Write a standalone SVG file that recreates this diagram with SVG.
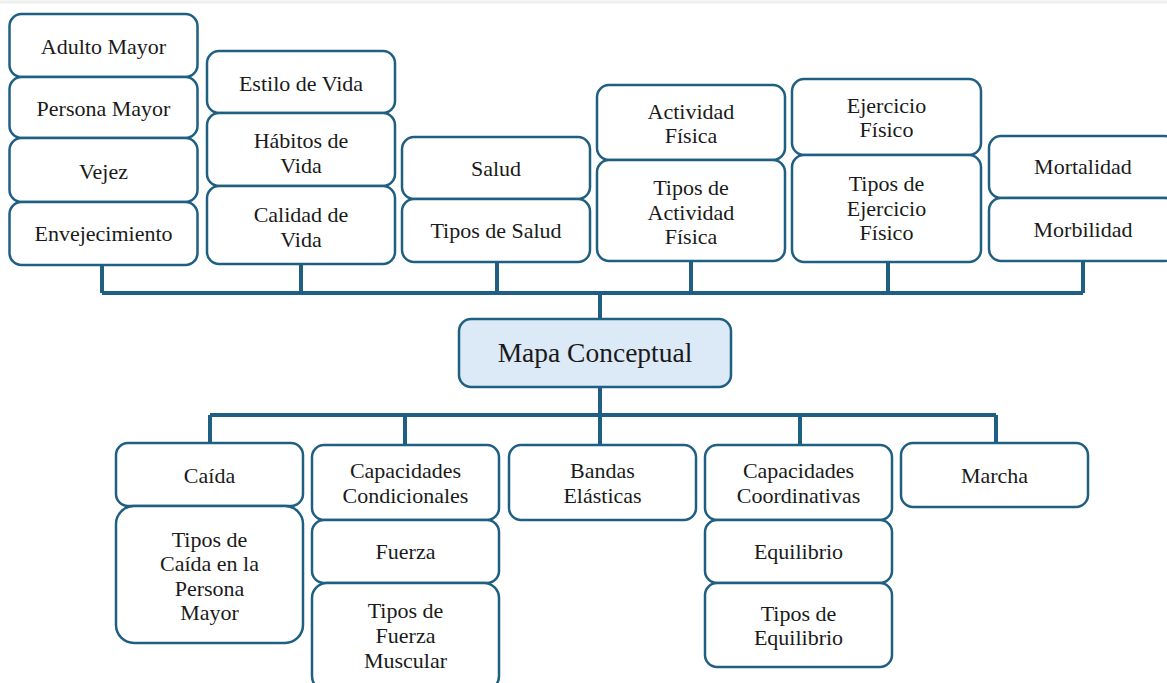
<svg xmlns="http://www.w3.org/2000/svg" width="1167" height="683" viewBox="0 0 1167 683" font-family="'Liberation Serif', 'DejaVu Serif', serif">
<style>
.b{fill:#fff;stroke:#1f5f82;stroke-width:2.5}
.m{fill:#dce9f6;stroke:#1f5f82;stroke-width:2.5}
.c{fill:none;stroke:#1f5f82;stroke-width:4}
text{font-family:'Liberation Serif','DejaVu Serif',serif;font-size:22px;fill:#1a1a1a;text-anchor:middle}
.t{font-size:27.5px}
</style>
<rect width="1167" height="683" fill="#fff"/>
<line x1="0" y1="2" x2="1167" y2="2" stroke="#eeeeee" stroke-width="3"/>
<g id="connectors">
<path class="c" d="M102 265V293M301 264V293M497 262V293M691 261V293M888 262V293M1083 261V293M102 293H1083M600 293V319"/>
<path class="c" d="M600 387V415M210 415H996M210 415V443M405 415V445M600 415V445M800 415V445M996 415V443"/>
</g>
<g id="n-adulto"><rect class="b" x="9.5" y="14" width="188" height="63" rx="12"/><text x="103.5" y="54">Adulto Mayor</text></g>
<g id="n-persona"><rect class="b" x="9.5" y="77" width="188" height="61" rx="12"/><text x="103.5" y="116">Persona Mayor</text></g>
<g id="n-vejez"><rect class="b" x="9.5" y="138" width="188" height="64" rx="12"/><text x="103.5" y="179">Vejez</text></g>
<g id="n-envejecimiento"><rect class="b" x="9.5" y="202" width="188" height="63" rx="12"/><text x="103.5" y="241">Envejecimiento</text></g>
<g id="n-estilo"><rect class="b" x="207" y="51" width="188" height="62" rx="12"/><text x="301" y="91">Estilo de Vida</text></g>
<g id="n-habitos"><rect class="b" x="207" y="113" width="188" height="73" rx="12"/><text x="301" y="148">Hábitos de</text><text x="301" y="173">Vida</text></g>
<g id="n-calidad"><rect class="b" x="207" y="186" width="188" height="78" rx="12"/><text x="301" y="222">Calidad de</text><text x="301" y="247">Vida</text></g>
<g id="n-salud"><rect class="b" x="402" y="137" width="188" height="62" rx="12"/><text x="496" y="176">Salud</text></g>
<g id="n-tipos-salud"><rect class="b" x="402" y="199" width="188" height="63" rx="12"/><text x="496" y="238">Tipos de Salud</text></g>
<g id="n-actividad"><rect class="b" x="597" y="85" width="188" height="75" rx="12"/><text x="691" y="119">Actividad</text><text x="691" y="143">Física</text></g>
<g id="n-tipos-actividad"><rect class="b" x="597" y="160" width="188" height="101" rx="12"/><text x="691" y="195">Tipos de</text><text x="691" y="220">Actividad</text><text x="691" y="244">Física</text></g>
<g id="n-ejercicio"><rect class="b" x="792" y="79" width="189" height="76" rx="12"/><text x="886.5" y="113">Ejercicio</text><text x="886.5" y="137">Físico</text></g>
<g id="n-tipos-ejercicio"><rect class="b" x="792" y="155" width="189" height="107" rx="12"/><text x="886.5" y="191">Tipos de</text><text x="886.5" y="216">Ejercicio</text><text x="886.5" y="240">Físico</text></g>
<g id="n-mortalidad"><rect class="b" x="989" y="136" width="188" height="62" rx="12"/><text x="1083" y="174">Mortalidad</text></g>
<g id="n-morbilidad"><rect class="b" x="989" y="198" width="188" height="63" rx="12"/><text x="1083" y="237">Morbilidad</text></g>
<g id="n-mapa"><rect class="m" x="459" y="319" width="272" height="68" rx="12"/><text class="t" x="595" y="362">Mapa Conceptual</text></g>
<g id="n-caida"><rect class="b" x="116" y="443" width="187" height="63" rx="12"/><text x="209.5" y="483">Caída</text></g>
<g id="n-tipos-caida"><rect class="b" x="116" y="506" width="187" height="137" rx="18"/><text x="209.5" y="547">Tipos de</text><text x="209.5" y="571">Caída en la</text><text x="209.5" y="596">Persona</text><text x="209.5" y="620">Mayor</text></g>
<g id="n-cap-cond"><rect class="b" x="312" y="445" width="187" height="75" rx="12"/><text x="405.5" y="478">Capacidades</text><text x="405.5" y="503">Condicionales</text></g>
<g id="n-fuerza"><rect class="b" x="312" y="520" width="187" height="63" rx="12"/><text x="405.5" y="559">Fuerza</text></g>
<g id="n-tipos-fuerza"><rect class="b" x="312" y="583" width="187" height="108" rx="15"/><text x="405.5" y="618">Tipos de</text><text x="405.5" y="643">Fuerza</text><text x="405.5" y="668">Muscular</text></g>
<g id="n-bandas"><rect class="b" x="509" y="445" width="187" height="75" rx="12"/><text x="602.5" y="478">Bandas</text><text x="602.5" y="503">Elásticas</text></g>
<g id="n-cap-coord"><rect class="b" x="705" y="445" width="187" height="75" rx="12"/><text x="798.5" y="478">Capacidades</text><text x="798.5" y="503">Coordinativas</text></g>
<g id="n-equilibrio"><rect class="b" x="705" y="520" width="187" height="63" rx="12"/><text x="798.5" y="559">Equilibrio</text></g>
<g id="n-tipos-equilibrio"><rect class="b" x="705" y="583" width="187" height="84" rx="12"/><text x="798.5" y="621">Tipos de</text><text x="798.5" y="645">Equilibrio</text></g>
<g id="n-marcha"><rect class="b" x="901" y="443" width="187" height="64" rx="12"/><text x="994.5" y="483">Marcha</text></g>
</svg>
